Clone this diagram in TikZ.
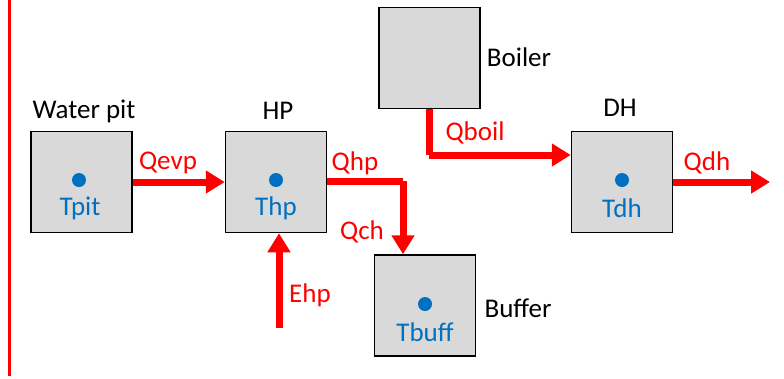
\documentclass[tikz,border=0pt]{standalone}
\usepackage{fontspec}
\setmainfont{Carlito}
\usetikzlibrary{arrows.meta}
\definecolor{boxgray}{HTML}{D9D9D9}
\definecolor{tblue}{HTML}{0070C0}
\definecolor{fred}{HTML}{FF0000}
\begin{document}
\begin{tikzpicture}[x=1pt,y=-1pt,
  font=\fontsize{27}{31}\selectfont,
  unit/.style={draw=black,line width=1.5pt,fill=boxgray,minimum size=101pt,inner sep=0pt},
  flow/.style={draw=fred,line width=7pt,-{Triangle[width=22pt,length=19pt]}},
  flowline/.style={draw=fred,line width=7pt},
  tdot/.style={circle,fill=tblue,minimum size=14pt,inner sep=0pt},
  temp/.style={text=tblue,inner sep=0pt},
  flowlbl/.style={text=fred,inner sep=0pt},
  unitname/.style={text=black,inner sep=0pt}]
\useasboundingbox (0,0) rectangle (784,378);
\draw[fred,line width=2.5pt] (9.5,0) -- (9.5,376);

\node[unit] (wp) at (81.5,182) {};
\node[unit] (hp) at (276,182) {};
\node[unit] (boil) at (429.5,58) {};
\node[unit] (dh) at (622,182) {};
\node[unit] (buf) at (425,305.5) {};

\node[tdot] (dwp) at (79,180) {};
\node[tdot] (dhp) at (276,180) {};
\node[tdot] (ddh) at (622,180) {};
\node[tdot] (dbuf) at (425,304) {};

\node[temp] (twp) at (80,208) {Tpit};
\node[temp] (thp) at (276,208) {Thp};
\node[temp] (tdh) at (622,208) {Tdh};
\node[temp] (tbuf) at (425,332) {Tbuff};

\node[unitname] (nwp) at (84,111) {Water pit};
\node[unitname] (nhp) at (278,111) {HP};
\node[unitname] (nboil) at (519,57) {Boiler};
\node[unitname] (ndh) at (620,108) {DH};
\node[unitname] (nbuf) at (518,308) {Buffer};

\coordinate (c1) at (403,181);
\coordinate (c2) at (429,155);
\coordinate (e1) at (279,328);
\coordinate (d1) at (770,182);

\draw[flow] (wp.east) -- (hp.west);
\draw[flowline] (hp.east |- c1) -- (c1);
\draw[flow] (c1) -- (c1 |- buf.north);
\draw[flowline] (c2 |- boil.south) -- (c2);
\draw[flow] (c2) -- (c2 -| dh.west);
\draw[flow] (e1) -- (e1 |- hp.south);
\draw[flow] (dh.east) -- (d1);

\node[flowlbl] (lqevp) at (168,163) {Qevp};
\node[flowlbl] (lqhp) at (355,163) {Qhp};
\node[flowlbl] (lqch) at (362,232) {Qch};
\node[flowlbl] (lehp) at (310,295) {Ehp};
\node[flowlbl] (lqboil) at (475,133) {Qboil};
\node[flowlbl] (lqdh) at (707,163) {Qdh};
\end{tikzpicture}
\end{document}
